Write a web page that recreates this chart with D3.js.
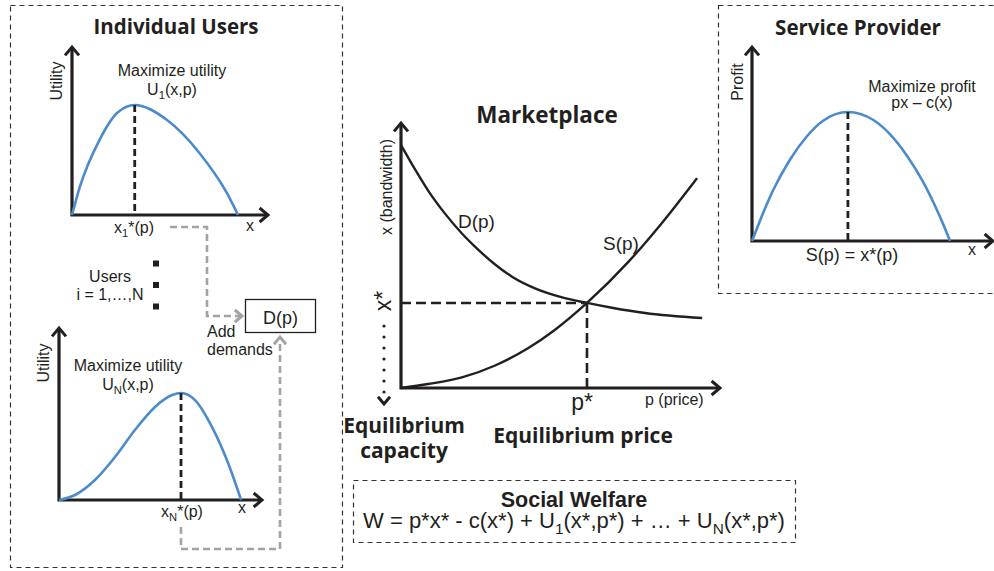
<!DOCTYPE html>
<html>
<head>
<meta charset="utf-8">
<script src="https://cdn.jsdelivr.net/npm/d3@7"></script>
<style>
  body { margin: 0; background: #fff; }
  svg { display: block; }
</style>
</head>
<body>
<svg id="chart" width="994" height="571"></svg>
<script>
// values are in axis units, 0-100 on both axes of every small plot
const user1X = [0, 4, 14, 23, 32, 48.5, 65, 79, 84.7];
const user1Y = [0, 16.7, 44.6, 60.7, 65.5, 56.5, 36.9, 13.1, 0];
const user1Opt = 32;

const userNX = [0, 7.9, 17.7, 27.6, 37.4, 47.3, 55.7, 60.1, 67.0, 75.4, 83.3, 89.7];
const userNY = [0, 2.9, 11.6, 25.0, 40.7, 54.1, 61.0, 62.2, 58.1, 42.4, 21.5, 0];
const userNOpt = 60.1;

const profitX = [0, 8.7, 15.8, 22.8, 29.5, 39.8, 50.2, 57.3, 64.3, 71.0, 78.0, 82.2];
const profitY = [0, 26, 42, 54, 62, 66.5, 62.5, 55, 44, 30.5, 12.5, 0];
const profitOpt = 39.8;

const demandP = [0, 4.4, 8.5, 13.8, 19.1, 24.1, 29.5, 34.8, 42.0, 50.5, 58.3, 66.1, 76.5, 94.4];
const demandX = [91.7, 82.5, 74.5, 65.8, 58.3, 52.3, 46.6, 42.0, 37.6, 34.2, 32.1, 30.3, 28.3, 26.4];
const supplyP = [0, 8.5, 19.1, 29.5, 39.8, 48.3, 58.3, 71.2, 81.8, 92.8];
const supplyX = [0, 1.5, 4.0, 8.5, 15.0, 22.0, 32.1, 47.5, 62.3, 79.2];
const eqPrice = 58.3;
const eqCapacity = 32.1;

const usersDots = [1, 2, 3];

const BLUE = '#4b8bcb';
const INK = '#231f20';
const GREY = '#a3a3a3';
const SANS = '"Liberation Sans", Arial, sans-serif';
const TITLE = '"Open Sans", Lato, sans-serif';

const svg = d3.select('#chart');

// dashed panels
const box = (x, y, w, h) => svg.append('rect')
    .attr('x', x).attr('y', y).attr('width', w).attr('height', h)
    .style('fill', 'none').style('stroke', '#333')
    .style('stroke-width', 1.2).style('stroke-dasharray', '5,4');
box(10.5, 5.5, 332, 562);
box(718.5, 5.5, 290, 288);
box(353.5, 480.5, 442, 62);

const text = (x, y, str, opts = {}) => {
    const t = svg.append('text')
        .attr('x', x).attr('y', y)
        .attr('text-anchor', opts.anchor || 'middle')
        .style('font-family', opts.family || SANS)
        .style('font-size', (opts.size || 16) + 'px')
        .style('font-weight', opts.weight || 'normal')
        .style('fill', opts.fill || INK)
        .text(str);
    if (opts.rotate) t.attr('transform', `rotate(-90,${x},${y})`);
    return t;
};

// text with subscripts: odd entries of parts are subscripts
const subText = (x, y, parts, opts = {}) => {
    const t = text(x, y, '', opts);
    const size = opts.size || 16;
    parts.forEach((p, i) => {
        const span = t.append('tspan').text(p);
        if (i % 2 === 1) span.attr('dy', size * 0.28).style('font-size', (size * 0.7) + 'px');
        else if (i > 0) span.attr('dy', -size * 0.28);
    });
    return t;
};

const chevron = (x, y, dir, color, size = 7) => {
    const pts = {
        right: [[x - size * 1.2, y - size], [x, y], [x - size * 1.2, y + size]],
        up: [[x - size, y + size * 1.2], [x, y], [x + size, y + size * 1.2]],
        down: [[x - size, y - size * 1.2], [x, y], [x + size, y - size * 1.2]],
    }[dir];
    svg.append('path')
        .attr('d', d3.line()(pts))
        .style('fill', 'none').style('stroke', color)
        .style('stroke-width', 3).style('stroke-linejoin', 'miter');
};

// draws a small plot with axes and its curves
const drawPlot = (cfg) => {
    const xScale = d3.scaleLinear().domain([0, 100]).range([cfg.x0, cfg.x1]);
    const yScale = d3.scaleLinear().domain([0, 100]).range([cfg.y0, cfg.y1]);
    const g = svg.append('g');

    g.append('path')
        .attr('d', d3.line()([[cfg.x0, cfg.y1], [cfg.x0, cfg.y0], [cfg.x1, cfg.y0]]))
        .style('fill', 'none').style('stroke', INK).style('stroke-width', 3.2);
    chevron(cfg.x0, cfg.y1, 'up', INK);
    chevron(cfg.x1, cfg.y0, 'right', INK);

    cfg.series.forEach(s => {
        const pts = s.xs.map((v, i) => [xScale(v), yScale(s.ys[i])]);
        g.append('path')
            .attr('d', d3.line().curve(d3.curveMonotoneX)(pts))
            .style('fill', 'none').style('stroke', s.color)
            .style('stroke-width', s.width || 2.6);
    });
    return { xScale, yScale, g };
};

const dashed = (pts, color = INK, dash = '8,5', width = 2.6) => svg.append('path')
    .attr('d', d3.line()(pts))
    .style('fill', 'none').style('stroke', color)
    .style('stroke-width', width).style('stroke-dasharray', dash);

// ---------- Individual users ----------
text(176, 34, 'Individual Users', { family: TITLE, size: 20.5, weight: 'bold' });

const p1 = drawPlot({ x0: 72, x1: 268, y0: 215, y1: 47,
    series: [{ xs: user1X, ys: user1Y, color: BLUE }] });
const peak1 = user1Y[user1X.indexOf(user1Opt)];
dashed([[p1.xScale(user1Opt), p1.yScale(peak1)], [p1.xScale(user1Opt), p1.yScale(0)]], INK, '7,4', 2.8);
text(62, 81, 'Utility', { rotate: true });
text(172, 76, 'Maximize utility');
subText(172, 95, ['U', '1', '(x,p)']);
subText(134, 233, ['x', '1', '*(p)']);
text(250, 231, 'x');

text(110, 282, 'Users');
text(110, 300, 'i = 1,\u2026,N');
svg.selectAll('.dot').data(usersDots).enter().append('rect')
    .attr('class', 'dot')
    .attr('x', 153).attr('y', d => 239 + d * 21.5)
    .attr('width', 6).attr('height', 6).style('fill', INK);

const pN = drawPlot({ x0: 59, x1: 262, y0: 500, y1: 328,
    series: [{ xs: userNX, ys: userNY, color: BLUE }] });
const peakN = userNY[userNX.indexOf(userNOpt)];
dashed([[pN.xScale(userNOpt), pN.yScale(peakN)], [pN.xScale(userNOpt), pN.yScale(0)]], INK, '7,4', 2.8);
text(49, 363, 'Utility', { rotate: true });
text(128, 371, 'Maximize utility');
subText(128, 390, ['U', 'N', '(x,p)']);
subText(182, 517, ['x', 'N', '*(p)']);
text(242, 513, 'x');

// aggregation box
svg.append('rect').attr('x', 245.5).attr('y', 299.5).attr('width', 70).attr('height', 33)
    .style('fill', '#fff').style('stroke', INK).style('stroke-width', 1.3);
text(280.5, 324, 'D(p)', { size: 18 });
text(207, 337, 'Add', { anchor: 'start' });
text(207, 355, 'demands', { anchor: 'start' });

dashed([[170, 227], [207, 227], [207, 316], [240, 316]], GREY, '7,4', 2.6);
chevron(242, 316, 'right', GREY, 6);
dashed([[pN.xScale(userNOpt), 527], [pN.xScale(userNOpt), 549], [280, 549], [280, 340]], GREY, '7,4', 2.6);
chevron(280, 337, 'up', GREY, 6);

// ---------- Marketplace ----------
text(547, 123, 'Marketplace', { family: TITLE, size: 22.5, weight: 'bold' });
const mk = drawPlot({ x0: 401, x1: 720, y0: 388, y1: 123,
    series: [
        { xs: demandP, ys: demandX, color: INK, width: 2.4 },
        { xs: supplyP, ys: supplyX, color: INK, width: 2.4 },
    ] });
dashed([[mk.xScale(0), mk.yScale(eqCapacity)], [mk.xScale(eqPrice), mk.yScale(eqCapacity)]], INK, '10,5');
dashed([[mk.xScale(eqPrice), mk.yScale(eqCapacity)], [mk.xScale(eqPrice), mk.yScale(0)]], INK, '10,5');
text(392, 187, 'x (bandwidth)', { rotate: true });
text(458, 228, 'D(p)', { anchor: 'start', size: 19 });
text(603, 250, 'S(p)', { anchor: 'start', size: 19 });
text(391, 301, 'x*', { rotate: true, size: 23 });
dashed([[384, 326], [384, 394]], INK, '0,11', 3.2).style('stroke-linecap', 'round');
chevron(384, 404, 'down', INK, 6);
text(582, 410, 'p*', { size: 23 });
text(645, 405, 'p (price)', { anchor: 'start', size: 16 });
const capLabel = text(404, 433, '', { family: TITLE, size: 21, weight: 'bold' });
capLabel.append('tspan').attr('x', 404).text('Equilibrium');
capLabel.append('tspan').attr('x', 404).attr('dy', 25).text('capacity');
text(583, 443, 'Equilibrium price', { family: TITLE, size: 21, weight: 'bold' });

// ---------- Service provider ----------
text(858, 35, 'Service Provider', { family: TITLE, size: 20.5, weight: 'bold' });
const sp = drawPlot({ x0: 752, x1: 993, y0: 241, y1: 47,
    series: [{ xs: profitX, ys: profitY, color: BLUE }] });
const peakS = profitY[profitX.indexOf(profitOpt)];
dashed([[sp.xScale(profitOpt), sp.yScale(peakS)], [sp.xScale(profitOpt), sp.yScale(0)]], INK, '7,4', 2.8);
text(743, 82, 'Profit', { rotate: true });
text(922, 92, 'Maximize profit');
text(922, 108, 'px \u2013 c(x)');
text(852, 261, 'S(p) = x*(p)', { size: 18 });
text(972, 255, 'x');

// ---------- Social welfare ----------
text(574, 507, 'Social Welfare', { size: 21.5, weight: 'bold' });
subText(574, 528, ['W = p*x* - c(x*) + U', '1', '(x*,p*) + \u2026 + U', 'N', '(x*,p*)'], { size: 22 });
</script>
</body>
</html>
